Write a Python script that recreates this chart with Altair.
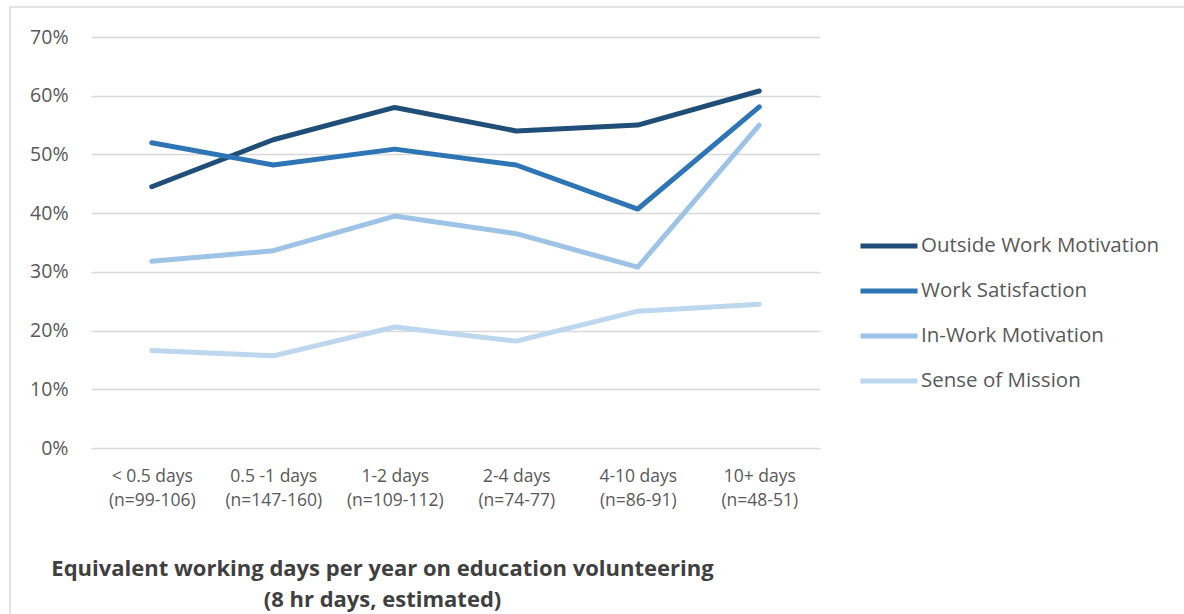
import altair as alt
import pandas as pd

# Volunteering time bands (x axis) with their sample sizes
categories = [
    "< 0.5 days\n(n=99-106)",
    "0.5 -1  days\n(n=147-160)",
    "1-2 days\n(n=109-112)",
    "2-4 days\n(n=74-77)",
    "4-10 days\n(n=86-91)",
    "10+ days\n(n=48-51)",
]

series_names = [
    "Outside Work Motivation",
    "Work Satisfaction",
    "In-Work Motivation",
    "Sense of Mission",
]

outside_work_motivation = [0.445, 0.525, 0.580, 0.540, 0.550, 0.608]
work_satisfaction = [0.520, 0.482, 0.509, 0.482, 0.407, 0.581]
in_work_motivation = [0.318, 0.336, 0.395, 0.365, 0.308, 0.550]
sense_of_mission = [0.166, 0.157, 0.206, 0.182, 0.233, 0.245]

series_colors = ["#1F4E79", "#2E75B6", "#9DC3E6", "#BDD7EE"]

values = [outside_work_motivation, work_satisfaction, in_work_motivation, sense_of_mission]
rows = []
for name, vals in zip(series_names, values):
    for i, (cat, v) in enumerate(zip(categories, vals)):
        rows.append({"band": cat, "series": name, "value": v, "order": i})
df = pd.DataFrame(rows)

FONT = "Open Sans"
TEXT = "#595959"
GRID = "#D9D9D9"

# light frame around the whole figure
frame = alt.Chart(pd.DataFrame({"f": [0]})).mark_rect(
    fill=None, stroke=GRID, strokeWidth=1.5
).encode(
    x=alt.value(-81), x2=alt.value(1200), y=alt.value(-30), y2=alt.value(700)
)

lines = alt.Chart(df).mark_line(strokeWidth=5, strokeCap="round", strokeJoin="round").encode(
    x=alt.X(
        "band:N",
        sort=categories,
        scale=alt.Scale(type="point", padding=0.5),
        axis=alt.Axis(
            title=["Equivalent working days per year on education volunteering",
                   "(8 hr days, estimated)"],
            titleFont=FONT, titleFontSize=22, titleFontWeight="bold", titleColor="#404040",
            titleAnchor="start", titleAlign="center", titleX=291, titleY=110,
            titleLineHeight=31,
            labelExpr="split(datum.label, '\\n')",
            labelFont=FONT, labelFontSize=17.5, labelColor=TEXT, labelLineHeight=24,
            labelAngle=0, labelPadding=19,
            ticks=False, domain=False, grid=False,
        ),
    ),
    y=alt.Y(
        "value:Q",
        scale=alt.Scale(domain=[0, 0.7]),
        axis=alt.Axis(
            title=None, format=".0%", values=[0, 0.1, 0.2, 0.3, 0.4, 0.5, 0.6, 0.7],
            labelFont=FONT, labelFontSize=19.5, labelColor=TEXT, labelPadding=23,
            ticks=False, domain=False, grid=True, gridColor=GRID, gridWidth=1.5,
        ),
    ),
    color=alt.Color(
        "series:N",
        sort=series_names,
        scale=alt.Scale(domain=series_names, range=series_colors),
        legend=alt.Legend(
            title=None, orient="none", legendX=767, legendY=178,
            symbolType="stroke", symbolStrokeWidth=5, symbolSize=3249,
            labelFont=FONT, labelFontSize=20.5, labelColor=TEXT, labelOffset=1,
            labelLimit=0, rowPadding=3,
        ),
    ),
    order="order:Q",
)

chart = alt.layer(frame, lines).properties(
    width=729,
    height=411,
    background="white",
    autosize=alt.AutoSizeParams(type="none"),
    padding={"left": 91, "top": 37, "right": 364, "bottom": 166},
).configure_view(stroke=None)

chart.save("out.html", embed_options={"renderer": "svg", "actions": False})
